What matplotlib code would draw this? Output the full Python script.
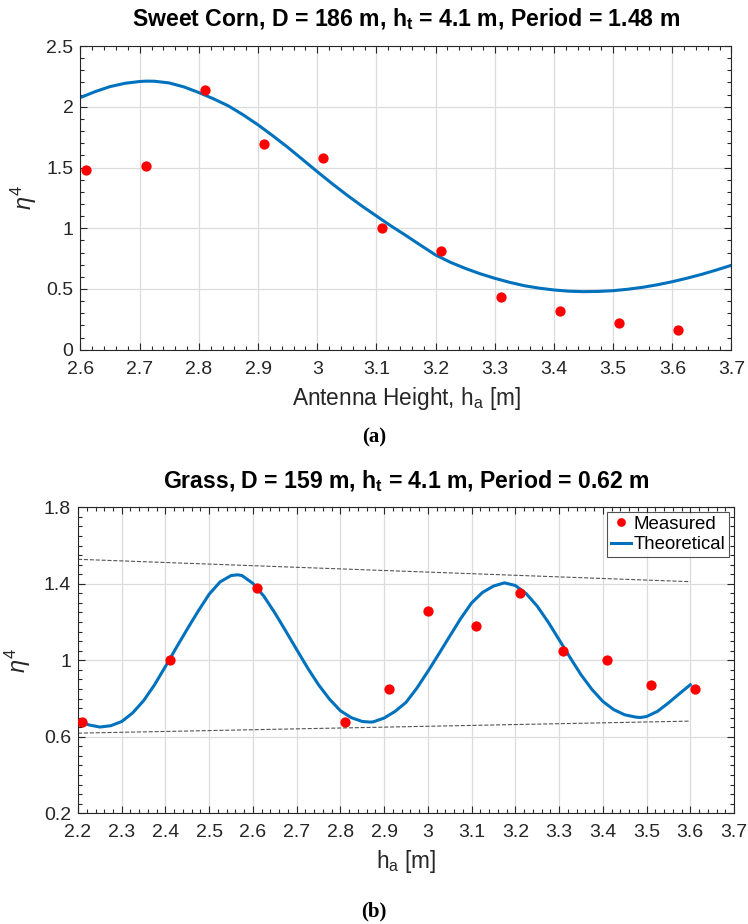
import numpy as np
import matplotlib
matplotlib.use("Agg")
import matplotlib.pyplot as plt
from matplotlib.ticker import MultipleLocator, FixedLocator

# ---------------- Data ----------------
# (a) sweet corn
corn_h = [2.61, 2.71, 2.81, 2.91, 3.01, 3.11, 3.21, 3.31, 3.41, 3.51, 3.61]
corn_meas = [1.48, 1.51, 2.14, 1.69, 1.58, 1.00, 0.81, 0.43, 0.32, 0.22, 0.16]
corn_th_h = [2.600, 2.625, 2.650, 2.675, 2.700, 2.712, 2.725, 2.750, 2.775, 2.800,
             2.825, 2.850, 2.875, 2.900, 2.925, 2.950, 2.975, 3.000, 3.025, 3.050,
             3.075, 3.100, 3.125, 3.150, 3.175, 3.200, 3.225, 3.250, 3.275, 3.300,
             3.325, 3.350, 3.375, 3.400, 3.425, 3.450, 3.475, 3.500, 3.525, 3.550,
             3.575, 3.600, 3.625, 3.650, 3.675, 3.700]
corn_th = [2.076, 2.125, 2.166, 2.193, 2.208, 2.211, 2.210, 2.196, 2.163, 2.117,
           2.065, 2.007, 1.933, 1.851, 1.761, 1.667, 1.567, 1.466, 1.368, 1.274,
           1.185, 1.101, 1.018, 0.940, 0.859, 0.780, 0.720, 0.670, 0.626, 0.588,
           0.555, 0.527, 0.507, 0.492, 0.482, 0.478, 0.480, 0.486, 0.498, 0.514,
           0.535, 0.560, 0.589, 0.621, 0.657, 0.695]

# (b) grass
grass_h = [2.21, 2.41, 2.61, 2.81, 2.91, 3.00, 3.11, 3.21, 3.31, 3.41, 3.51, 3.61]
grass_meas = [0.675, 1.00, 1.38, 0.675, 0.85, 1.26, 1.18, 1.35, 1.05, 1.00, 0.87, 0.85]
grass_th_h = [2.200, 2.225, 2.250, 2.275, 2.300, 2.325, 2.350, 2.375, 2.400, 2.425,
              2.450, 2.475, 2.500, 2.525, 2.550, 2.565, 2.575, 2.600, 2.625, 2.650,
              2.675, 2.700, 2.725, 2.750, 2.775, 2.800, 2.825, 2.850, 2.867, 2.875,
              2.900, 2.925, 2.950, 2.975, 3.000, 3.025, 3.050, 3.075, 3.100, 3.125,
              3.150, 3.175, 3.200, 3.225, 3.250, 3.275, 3.300, 3.325, 3.350, 3.375,
              3.400, 3.425, 3.450, 3.475, 3.486, 3.500, 3.525, 3.550, 3.575, 3.600]
grass_th = [0.685, 0.662, 0.651, 0.658, 0.680, 0.725, 0.789, 0.872, 0.968, 1.067,
            1.164, 1.258, 1.346, 1.410, 1.443, 1.447, 1.443, 1.402, 1.335, 1.248,
            1.153, 1.056, 0.960, 0.872, 0.797, 0.736, 0.700, 0.680, 0.677, 0.678,
            0.698, 0.733, 0.780, 0.855, 0.942, 1.033, 1.126, 1.218, 1.300, 1.355,
            1.388, 1.405, 1.391, 1.348, 1.283, 1.200, 1.108, 1.015, 0.925, 0.848,
            0.785, 0.742, 0.715, 0.703, 0.701, 0.706, 0.733, 0.777, 0.825, 0.872]
env_h = [2.2, 3.6]
env_upper = [1.528, 1.411]
env_lower = [0.619, 0.682]
grass_yticks = [0.2, 0.6, 1.0, 1.4, 1.8]

# ---------------- Style ----------------
plt.rcParams['font.family'] = ['Liberation Sans', 'DejaVu Sans']
plt.rcParams['mathtext.fontset'] = 'custom'
plt.rcParams['mathtext.rm'] = 'Liberation Sans'
plt.rcParams['mathtext.it'] = 'Liberation Sans:italic'
plt.rcParams['mathtext.bf'] = 'Liberation Sans:bold'

DARK = '#262626'
BLUE = '#0072BD'
FS = 14          # tick labels
FS_LAB = 16.3    # axis labels
FS_TIT = 16.6    # titles
FS_LEG = 13.4


def style_axes(ax, xmaj, xmin, ymin):
    ax.xaxis.set_major_locator(MultipleLocator(xmaj))
    ax.xaxis.set_minor_locator(MultipleLocator(xmin))
    ax.yaxis.set_minor_locator(MultipleLocator(ymin))
    ax.tick_params(which='both', direction='in', top=True, right=True,
                   colors=DARK, labelsize=FS, width=0.8)
    ax.tick_params(which='major', length=5)
    ax.tick_params(which='minor', length=3)
    ax.tick_params(axis='x', pad=8)
    ax.tick_params(axis='y', pad=5)
    for s in ax.spines.values():
        s.set_color(DARK)
        s.set_linewidth(0.8)
    ax.grid(True, which='major', color='#dcdcdc', lw=0.9)
    ax.set_axisbelow(True)
    ax.xaxis.set_major_formatter(plt.FuncFormatter(lambda v, p: f"{v:g}"))
    ax.yaxis.set_major_formatter(plt.FuncFormatter(lambda v, p: f"{v:g}"))


fig = plt.figure(figsize=(7.48, 9.24), dpi=100)

# ---------------- (a) ----------------
ax1 = fig.add_axes([0.1076, 0.6215, 0.8703, 0.3287])
ax1.plot(corn_th_h, corn_th, color=BLUE, lw=2.2, zorder=2)
ax1.plot(corn_h, corn_meas, 'o', color='red', ms=7.4, mec='none', zorder=3)
ax1.set_xlim(2.6, 3.7)
ax1.set_ylim(0, 2.5)
ax1.yaxis.set_major_locator(MultipleLocator(0.5))
style_axes(ax1, 0.1, 0.02, 0.1)
ax1.set_title(r'Sweet Corn, D = 186 m, h$_\mathbf{t}$ = 4.1 m, Period = 1.48 m',
              fontsize=FS_TIT, fontweight='bold', pad=14)
ax1.set_xlabel(r'Antenna Height, h$_\mathrm{a}$ [m]', fontsize=FS_LAB, color=DARK,
               labelpad=5)
ax1.set_ylabel(r'$\eta^4$', fontsize=17, color=DARK, labelpad=5)
fig.text(0.5, 1 - 437 / 924, '(a)', ha='center', va='center',
         family='Liberation Serif', fontweight='bold', fontsize=15)

# ---------------- (b) ----------------
ax2 = fig.add_axes([0.1043, 0.1198, 0.877, 0.3312])
ax2.plot(env_h, env_upper, '--', color='#555555', lw=0.8, zorder=2)
ax2.plot(env_h, env_lower, '--', color='#555555', lw=0.8, zorder=2)
ax2.plot(grass_h, grass_meas, 'o', color='red', ms=7.4, mec='none', zorder=3,
         label='Measured')
ax2.plot(grass_th_h, grass_th, color=BLUE, lw=2.2, zorder=2, label='Theoretical')
ax2.set_xlim(2.2, 3.7)
ax2.set_ylim(0.2, 1.8)
ax2.yaxis.set_major_locator(FixedLocator(grass_yticks))
style_axes(ax2, 0.1, 0.02, 0.05)
ax2.set_title(r'Grass, D = 159 m, h$_\mathbf{t}$ = 4.1 m, Period = 0.62 m',
              fontsize=FS_TIT, fontweight='bold', pad=14)
ax2.set_xlabel(r'h$_\mathrm{a}$ [m]', fontsize=FS_LAB, color=DARK, labelpad=5)
ax2.set_ylabel(r'$\eta^4$', fontsize=17, color=DARK, labelpad=8)
leg = ax2.legend(loc='upper right', fontsize=FS_LEG, frameon=True, fancybox=False,
                 borderaxespad=0.25, handlelength=1.1, handletextpad=0.15,
                 borderpad=0.2, labelspacing=0.2, markerscale=0.85)
leg.get_frame().set_edgecolor(DARK)
leg.get_frame().set_linewidth(0.8)
fig.text(0.5, 1 - 911 / 924, '(b)', ha='center', va='center',
         family='Liberation Serif', fontweight='bold', fontsize=15)

fig.savefig('out.png', dpi=100)
